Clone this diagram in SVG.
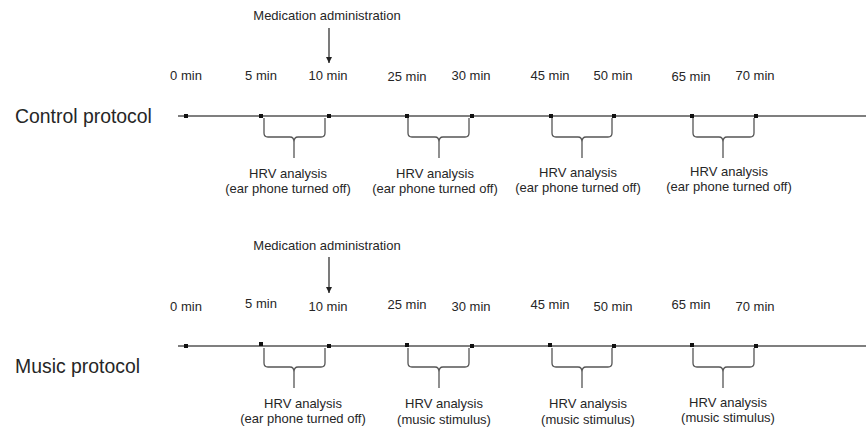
<svg xmlns="http://www.w3.org/2000/svg" width="866" height="431" viewBox="0 0 866 431">
<style>
text{font-family:"Liberation Sans",Arial,sans-serif;fill:#262626}
.t{font-size:13px;text-anchor:middle}
.p{font-size:19.4px}
.ln{stroke:#555;stroke-width:1.4;fill:none}
.br{stroke:#555;stroke-width:1.3;fill:none}
.dot{fill:#111}
.ar{stroke:#333;stroke-width:1.3}
</style>
<defs>
<marker id="ah" viewBox="0 0 10 10" refX="10" refY="5" markerWidth="6" markerHeight="6" markerUnits="userSpaceOnUse" orient="auto"><path d="M0,0 L10,5 L0,10 z" fill="#222"/></marker>
</defs>
<rect width="866" height="431" fill="#fff"/>
<g id="control">
<text class="p" x="15" y="123">Control protocol</text>
<text class="t" x="327" y="20">Medication administration</text>
<g class="t-labels">
<text class="t" x="186" y="80">0 min</text>
<text class="t" x="261" y="80">5 min</text>
<text class="t" x="328" y="80">10 min</text>
<text class="t" x="407" y="81">25 min</text>
<text class="t" x="471" y="80">30 min</text>
<text class="t" x="550" y="80">45 min</text>
<text class="t" x="613" y="80">50 min</text>
<text class="t" x="691" y="81">65 min</text>
<text class="t" x="755" y="80">70 min</text>
</g>
<g id="c-hrv1"><text class="t" x="288" y="178">HRV analysis</text><text class="t" x="288" y="193">(ear phone turned  off)</text></g>
<g id="c-hrv2"><text class="t" x="435" y="178">HRV analysis</text><text class="t" x="435" y="193">(ear phone turned  off)</text></g>
<g id="c-hrv3"><text class="t" x="578" y="177">HRV analysis</text><text class="t" x="578" y="192">(ear phone turned  off)</text></g>
<g id="c-hrv4"><text class="t" x="729" y="176">HRV analysis</text><text class="t" x="729" y="191">(ear phone turned  off)</text></g>
</g>
<g id="music">
<text class="p" x="15" y="373">Music protocol</text>
<text class="t" x="327" y="250">Medication administration</text>
<text class="t" x="186" y="311">0 min</text>
<text class="t" x="261" y="308">5 min</text>
<text class="t" x="328" y="311">10 min</text>
<text class="t" x="407" y="309">25 min</text>
<text class="t" x="471" y="311">30 min</text>
<text class="t" x="550" y="309">45 min</text>
<text class="t" x="613" y="311">50 min</text>
<text class="t" x="691" y="309">65 min</text>
<text class="t" x="755" y="311">70 min</text>
<g id="m-hrv1"><text class="t" x="303" y="408">HRV analysis</text><text class="t" x="303" y="423">(ear phone turned  off)</text></g>
<g id="m-hrv2"><text class="t" x="444" y="408">HRV analysis</text><text class="t" x="444" y="424">(music stimulus)</text></g>
<g id="m-hrv3"><text class="t" x="588" y="408">HRV analysis</text><text class="t" x="588" y="424">(music stimulus)</text></g>
<g id="m-hrv4"><text class="t" x="728" y="407">HRV analysis</text><text class="t" x="728" y="422">(music stimulus)</text></g>
</g>
<g id="connectors">
<line class="ln" x1="178" y1="116" x2="866" y2="116"/>
<line class="ln" x1="178" y1="346" x2="866" y2="346"/>
<line class="ar" x1="329" y1="28" x2="329" y2="63" marker-end="url(#ah)"/>
<line class="ar" x1="329" y1="257" x2="329" y2="293" marker-end="url(#ah)"/>
<g id="dots-c">
<rect class="dot" x="184" y="114" width="4" height="4"/>
<rect class="dot" x="259" y="114" width="4" height="4"/>
<rect class="dot" x="327" y="114" width="4" height="4"/>
<rect class="dot" x="405" y="114" width="4" height="4"/>
<rect class="dot" x="470" y="114" width="4" height="4"/>
<rect class="dot" x="549" y="114" width="4" height="4"/>
<rect class="dot" x="612" y="114" width="4" height="4"/>
<rect class="dot" x="690" y="114" width="4" height="4"/>
<rect class="dot" x="754" y="114" width="4" height="4"/>
</g>
<g id="dots-m">
<rect class="dot" x="184" y="344" width="4" height="4"/>
<rect class="dot" x="259" y="342" width="4" height="4"/>
<rect class="dot" x="327" y="344" width="4" height="4"/>
<rect class="dot" x="405" y="343" width="4" height="4"/>
<rect class="dot" x="470" y="344" width="4" height="4"/>
<rect class="dot" x="548" y="343" width="4" height="4"/>
<rect class="dot" x="612" y="344" width="4" height="4"/>
<rect class="dot" x="690" y="343" width="4" height="4"/>
<rect class="dot" x="754" y="344" width="4" height="4"/>
</g>
<g id="brackets-c">
<path class="br" d="M264,118V133Q264,137 268,137H290Q294,137 294,142V158M294,142Q294,137 298,137H321Q325,137 325,133V118"/>
<path class="br" d="M408,118V133Q408,137 412,137H435Q439,137 439,142V158M439,142Q439,137 443,137H465Q469,137 469,133V118"/>
<path class="br" d="M552,118V133Q552,137 556,137H578Q582,137 582,142V158M582,142Q582,137 586,137H608Q612,137 612,133V118"/>
<path class="br" d="M693,118V133Q693,137 697,137H719Q723,137 723,142V158M723,142Q723,137 727,137H750Q754,137 754,133V118"/>
</g>
<g id="brackets-m">
<path class="br" d="M264,348V363Q264,367 268,367H290Q294,367 294,372V388M294,372Q294,367 298,367H321Q325,367 325,363V348"/>
<path class="br" d="M408,348V363Q408,367 412,367H435Q439,367 439,372V388M439,372Q439,367 443,367H465Q469,367 469,363V348"/>
<path class="br" d="M552,348V363Q552,367 556,367H578Q582,367 582,372V388M582,372Q582,367 586,367H608Q612,367 612,363V348"/>
<path class="br" d="M693,348V363Q693,367 697,367H719Q723,367 723,372V388M723,372Q723,367 727,367H750Q754,367 754,363V348"/>
</g>
</g>
</svg>
